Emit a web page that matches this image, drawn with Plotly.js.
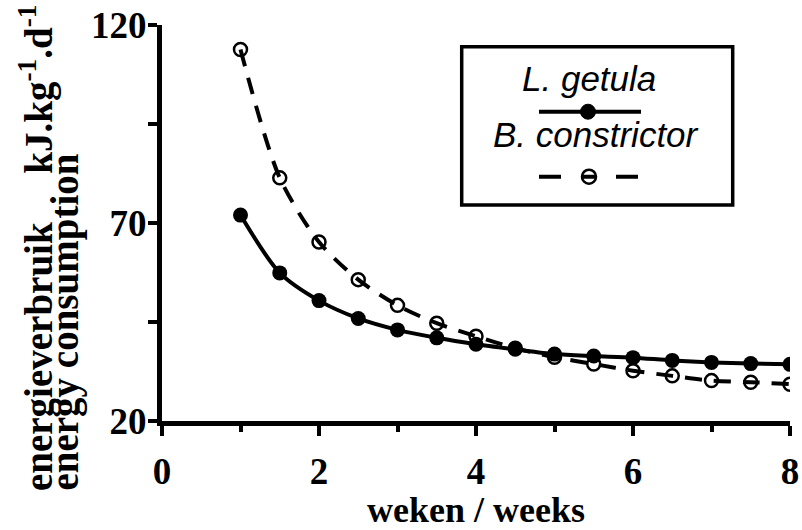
<!DOCTYPE html>
<html><head><meta charset="utf-8">
<script src="https://cdn.plot.ly/plotly-3.0.1.min.js"></script>
<style>html,body{margin:0;padding:0;background:#fff}#chart{width:802px;height:530px}</style>
</head><body><div id="chart"></div>
<script>
// ---- data ----
const weeks = [1,1.5,2,2.5,3,3.5,4,4.5,5,5.5,6,6.5,7,7.5,8];
const getula = [72.0,57.4,50.4,45.9,43.0,41.0,39.4,38.1,36.9,36.4,36.0,35.3,34.8,34.5,34.3];
const constrictor = [113.8,81.4,65.2,55.7,49.2,44.7,41.4,38.4,36.1,34.4,32.7,31.4,30.2,29.8,29.3];
const xTicks = [0,2,4,6,8];
const xMinor = [1,3,5,7];
const yTicks = [20,70,120];
const yMinor = [45,95];
const seriesNames = ['L. getula','B. constrictor'];
const xTitle = 'weken / weeks';
const yTitleNl = 'energieverbruik\u00a0\u00a0\u00a0\u00a0\u00a0kJ.kg<sup>-1</sup>.d<sup>-1</sup>';
const yTitleEn = 'energy consumption';

// ---- geometry helpers (layout only) ----
const M = {l:162, r:12, t:25, b:109};
const PW = 802 - M.l - M.r, PH = 530 - M.t - M.b;
const px = v => (v - M.l) / PW;          // pixel x -> paper
const py = v => (530 - M.b - v) / PH;    // pixel y -> paper

const serifBold = {family:'Liberation Serif, Times New Roman, serif', weight:700, color:'#000'};
const sansIt = {family:'Liberation Sans, Arial, sans-serif', style:'italic', color:'#000', size:35};

const traces = [
  {x: weeks, y: constrictor, name: seriesNames[1], type:'scatter', mode:'lines+markers',
   line:{color:'#000', width:4, dash:'17px,12px', shape:'spline', smoothing:0.8},
   marker:{symbol:'circle-open', size:13, color:'#000', line:{width:2.5, color:'#000'}}},
  {x: weeks, y: getula, name: seriesNames[0], type:'scatter', mode:'lines+markers',
   line:{color:'#000', width:4, shape:'spline', smoothing:0.8},
   marker:{symbol:'circle', size:15, color:'#000'}}
];

const axisCommon = {showline:true, linewidth:5, linecolor:'#000', showgrid:false, zeroline:false,
  ticks:'outside', tickwidth:4, tickcolor:'#000', fixedrange:true};

const layout = {
  width:802, height:530, margin:M, paper_bgcolor:'#fff', plot_bgcolor:'#fff', showlegend:false,
  xaxis: Object.assign({}, axisCommon, {range:[0,8], tickmode:'array', tickvals:xTicks, ticktext:xTicks.map(String),
    ticklen:10, ticklabelstandoff:4, tickfont:Object.assign({size:37}, serifBold),
    minor:{tickmode:'array', tickvals:xMinor, ticks:'outside', ticklen:6, tickwidth:4, tickcolor:'#000', showgrid:false},
    title:{text:xTitle, font:Object.assign({size:36}, serifBold), standoff:17}}),
  yaxis: Object.assign({}, axisCommon, {range:[20,120], tickmode:'array', tickvals:yTicks, ticktext:yTicks.map(String),
    ticklen:9, ticklabelstandoff:-6, tickfont:Object.assign({size:37}, serifBold),
    minor:{tickmode:'array', tickvals:yMinor, ticks:'outside', ticklen:9, tickwidth:4, tickcolor:'#000', showgrid:false}}),
  annotations: [
    {text:yTitleNl, xref:'paper', yref:'paper', x:px(36), y:py(493), xanchor:'center', yanchor:'bottom',
     textangle:-90, showarrow:false, font:Object.assign({size:39}, serifBold)},
    {text:yTitleEn, xref:'paper', yref:'paper', x:px(64), y:py(493), xanchor:'center', yanchor:'bottom',
     textangle:-90, showarrow:false, font:Object.assign({size:39}, serifBold)},
    {text:'<i>' + seriesNames[0] + '</i>', xref:'paper', yref:'paper', x:px(589), y:py(78), xanchor:'center', yanchor:'middle',
     showarrow:false, font:sansIt},
    {text:'<i>' + seriesNames[1] + '</i>', xref:'paper', yref:'paper', x:px(596), y:py(134), xanchor:'center', yanchor:'middle',
     showarrow:false, font:sansIt}
  ],
  shapes: [
    {type:'rect', xref:'paper', yref:'paper', x0:px(461.7), x1:px(732.7), y0:py(46.7), y1:py(205),
     line:{color:'#000', width:3.5}, fillcolor:'#fff', layer:'above'},
    {type:'line', xref:'paper', yref:'paper', x0:px(539), x1:px(641), y0:py(111.7), y1:py(111.7),
     line:{color:'#000', width:4}, layer:'above'},
    {type:'circle', xref:'paper', yref:'paper', xsizemode:'pixel', ysizemode:'pixel',
     xanchor:px(588), yanchor:py(111.7), x0:-7.5, x1:7.5, y0:-7.5, y1:7.5,
     fillcolor:'#000', line:{color:'#000', width:1}, layer:'above'},
    {type:'line', xref:'paper', yref:'paper', x0:px(539), x1:px(638), y0:py(176.7), y1:py(176.7),
     line:{color:'#000', width:4, dash:'22px,20px,14px,21px,22px'}, layer:'above'},
    {type:'circle', xref:'paper', yref:'paper', xsizemode:'pixel', ysizemode:'pixel',
     xanchor:px(589), yanchor:py(176.7), x0:-7, x1:7, y0:-7, y1:7,
     fillcolor:'rgba(0,0,0,0)', line:{color:'#000', width:2.5}, layer:'above'}
  ]
};

Plotly.newPlot('chart', traces, layout, {staticPlot:true, displayModeBar:false});
</script>
</body></html>
